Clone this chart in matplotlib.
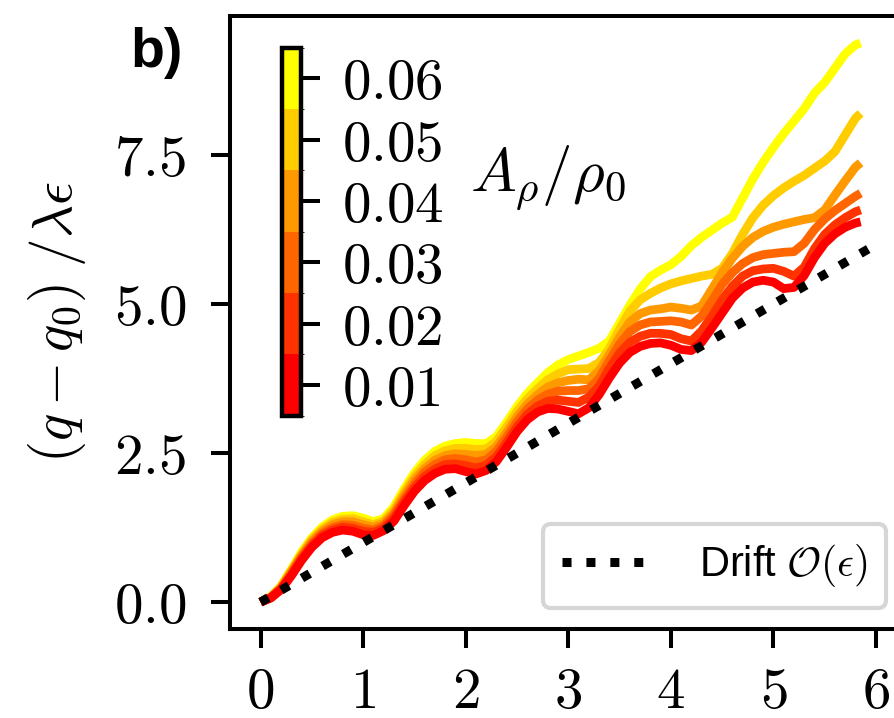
import matplotlib
matplotlib.use("Agg")
import matplotlib.pyplot as plt
import numpy as np
from matplotlib.colors import BoundaryNorm, ListedColormap
from matplotlib.cm import ScalarMappable
from matplotlib.ticker import FuncFormatter, FixedLocator

plt.rcParams['mathtext.fontset'] = 'cm'
plt.rcParams['font.family'] = ['Liberation Sans', 'DejaVu Sans']

# time axis (in periods)
t = [0.0, 0.1, 0.2, 0.3, 0.4, 0.5, 0.6, 0.7, 0.8, 0.9,
     1.0, 1.1, 1.2, 1.3, 1.4, 1.5, 1.6, 1.7, 1.8, 1.9,
     2.0, 2.1, 2.2, 2.3, 2.4, 2.5, 2.6, 2.7, 2.8, 2.9,
     3.0, 3.1, 3.2, 3.3, 3.4, 3.5, 3.6, 3.7, 3.8, 3.9,
     4.0, 4.1, 4.2, 4.3, 4.4, 4.5, 4.6, 4.7, 4.8, 4.9,
     5.0, 5.1, 5.2, 5.3, 5.4, 5.5, 5.6, 5.7, 5.8, 5.85]

amplitudes = [0.01, 0.02, 0.03, 0.04, 0.05, 0.06]

q_001 = [0.00, 0.07, 0.21, 0.44, 0.70, 0.92, 1.08, 1.17, 1.21, 1.19,
         1.13, 1.12, 1.20, 1.36, 1.62, 1.86, 2.04, 2.16, 2.23, 2.24,
         2.19, 2.15, 2.21, 2.36, 2.60, 2.86, 3.06, 3.19, 3.25, 3.24,
         3.20, 3.16, 3.26, 3.48, 3.76, 4.01, 4.19, 4.29, 4.34, 4.35,
         4.31, 4.24, 4.22, 4.36, 4.60, 4.85, 5.10, 5.27, 5.37, 5.40,
         5.37, 5.26, 5.28, 5.48, 5.78, 6.02, 6.18, 6.29, 6.36, 6.38]

q_002 = [0.00, 0.07, 0.22, 0.46, 0.73, 0.95, 1.12, 1.21, 1.26, 1.24,
         1.19, 1.17, 1.24, 1.41, 1.68, 1.92, 2.11, 2.23, 2.31, 2.32,
         2.29, 2.25, 2.30, 2.44, 2.68, 2.94, 3.15, 3.29, 3.37, 3.39,
         3.37, 3.35, 3.44, 3.62, 3.92, 4.18, 4.36, 4.46, 4.51, 4.51,
         4.49, 4.42, 4.38, 4.55, 4.80, 5.07, 5.30, 5.47, 5.56, 5.59,
         5.60, 5.55, 5.47, 5.62, 5.93, 6.17, 6.33, 6.45, 6.55, 6.58]

q_003 = [0.00, 0.08, 0.23, 0.48, 0.76, 0.98, 1.15, 1.25, 1.30, 1.29,
         1.24, 1.21, 1.28, 1.46, 1.73, 1.98, 2.18, 2.31, 2.39, 2.41,
         2.39, 2.35, 2.39, 2.53, 2.77, 3.03, 3.24, 3.39, 3.49, 3.54,
         3.55, 3.55, 3.58, 3.75, 4.05, 4.33, 4.54, 4.65, 4.70, 4.71,
         4.72, 4.70, 4.65, 4.80, 5.05, 5.33, 5.53, 5.68, 5.78, 5.83,
         5.85, 5.87, 5.88, 6.02, 6.25, 6.43, 6.57, 6.69, 6.81, 6.86]

q_004 = [0.00, 0.08, 0.25, 0.51, 0.78, 1.02, 1.19, 1.30, 1.35, 1.35,
         1.30, 1.26, 1.32, 1.50, 1.79, 2.05, 2.24, 2.38, 2.46, 2.49,
         2.48, 2.46, 2.48, 2.61, 2.85, 3.11, 3.32, 3.48, 3.61, 3.68,
         3.72, 3.74, 3.73, 3.88, 4.15, 4.45, 4.70, 4.84, 4.90, 4.92,
         4.95, 4.93, 4.90, 4.97, 5.25, 5.53, 5.77, 5.97, 6.12, 6.22,
         6.29, 6.34, 6.38, 6.42, 6.45, 6.58, 6.83, 7.07, 7.30, 7.37]

q_005 = [0.00, 0.09, 0.26, 0.53, 0.81, 1.05, 1.22, 1.34, 1.39, 1.40,
         1.35, 1.30, 1.36, 1.55, 1.84, 2.11, 2.31, 2.46, 2.54, 2.58,
         2.58, 2.56, 2.57, 2.70, 2.94, 3.20, 3.41, 3.58, 3.73, 3.83,
         3.90, 3.91, 3.92, 4.02, 4.25, 4.58, 4.88, 5.07, 5.18, 5.27,
         5.34, 5.39, 5.43, 5.47, 5.50, 5.60, 5.85, 6.17, 6.45, 6.66,
         6.82, 6.95, 7.06, 7.16, 7.28, 7.40, 7.56, 7.84, 8.12, 8.20]

q_006 = [0.00, 0.09, 0.27, 0.55, 0.84, 1.08, 1.26, 1.38, 1.44, 1.45,
         1.41, 1.35, 1.40, 1.60, 1.90, 2.17, 2.38, 2.53, 2.62, 2.66,
         2.68, 2.66, 2.66, 2.78, 3.02, 3.28, 3.50, 3.68, 3.85, 3.98,
         4.07, 4.13, 4.19, 4.26, 4.38, 4.68, 4.98, 5.25, 5.46, 5.57,
         5.66, 5.80, 5.98, 6.12, 6.24, 6.36, 6.46, 6.78, 7.10, 7.38,
         7.63, 7.86, 8.07, 8.28, 8.54, 8.72, 8.96, 9.20, 9.35, 9.38]

curves = [q_001, q_002, q_003, q_004, q_005, q_006]

# O(eps) drift: q - q0 = lambda*eps*t
drift_t = [0.0, 6.0]
drift_q = [0.0, 6.0]

cbar_ticks = [0.01, 0.02, 0.03, 0.04, 0.05, 0.06]
bounds = [0.005, 0.015, 0.025, 0.035, 0.045, 0.055, 0.065]

cmap = ListedColormap(plt.get_cmap('autumn', 6)(np.arange(6)))
norm = BoundaryNorm(bounds, cmap.N)

fig = plt.figure(figsize=(8.94, 7.18), dpi=100)
ax = fig.add_axes([0.2570, 0.1240, 0.7573, 0.8534])

for amp, q in reversed(list(zip(amplitudes, curves))):
    ax.plot(t, q, color=cmap(norm(amp)), lw=6.3, solid_capstyle='butt',
            solid_joinstyle='round', zorder=2)

ax.plot(drift_t, drift_q, color='black', ls=':', lw=6.5, zorder=3,
        label=r'Drift $\mathcal{O}(\epsilon)$')

ax.set_xlim(-0.30, 6.30)
ax.set_ylim(-0.45, 9.83)
ax.xaxis.set_major_locator(FixedLocator([0, 1, 2, 3, 4, 5, 6]))
ax.yaxis.set_major_locator(FixedLocator([0.0, 2.5, 5.0, 7.5]))
ax.xaxis.set_major_formatter(FuncFormatter(lambda v, p: r'$%d$' % round(v)))
ax.yaxis.set_major_formatter(FuncFormatter(lambda v, p: r'$%.1f$' % v))
ax.tick_params(axis='both', labelsize=41, length=13.5, width=2.9)
ax.tick_params(axis='x', pad=13)
ax.tick_params(axis='y', pad=18)
for s in ax.spines.values():
    s.set_linewidth(2.9)

leg = ax.legend(loc='lower right', fontsize=30, framealpha=0.8,
                handletextpad=1.3, borderpad=0.45)
leg.get_frame().set_linewidth(3.0)

fig.text(57 / 894, 1 - 322 / 718, r'$(q-q_0)\;/\lambda\epsilon$',
         rotation=90, ha='center', va='center', fontsize=41)

fig.text(130 / 894, 1 - 66.7 / 718, 'b)', fontsize=40, fontweight='bold',
         ha='left', va='baseline')

# colorbar inset
cax = fig.add_axes([0.3154, 0.4213, 0.02125, 0.5125])
cb = fig.colorbar(ScalarMappable(norm=norm, cmap=cmap), cax=cax,
                  boundaries=bounds, ticks=cbar_ticks)
cb.ax.yaxis.set_major_formatter(FuncFormatter(lambda v, p: r'$%.2f$' % v))
cb.ax.tick_params(labelsize=41, length=13.5, width=2.9, pad=16)
cb.outline.set_linewidth(3.2)
fig.text(470 / 894, 1 - 178 / 718, r'$A_\rho/\rho_0$', fontsize=44,
         ha='left', va='center')

fig.savefig('out.png', dpi=100)
